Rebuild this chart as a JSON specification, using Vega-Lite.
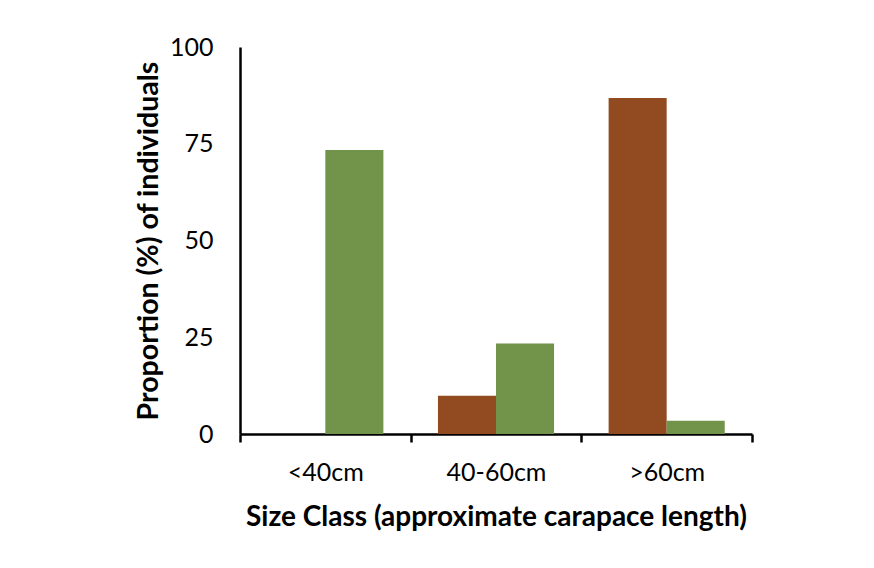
{
  "$schema": "https://vega.github.io/schema/vega-lite/v6.json",
  "autosize": {"type": "none"},
  "width": 512,
  "height": 387,
  "padding": {"left": 240, "top": 47, "right": 122, "bottom": 134},
  "background": "white",
  "data": {
    "values": [
      {"size": "<40cm", "series": "A", "pct": 0},
      {"size": "<40cm", "series": "B", "pct": 73.4},
      {"size": "40-60cm", "series": "A", "pct": 9.9},
      {"size": "40-60cm", "series": "B", "pct": 23.4},
      {"size": ">60cm", "series": "A", "pct": 86.8},
      {"size": ">60cm", "series": "B", "pct": 3.4}
    ]
  },
  "mark": {"type": "bar"},
  "encoding": {
    "x": {
      "field": "size",
      "type": "nominal",
      "sort": ["<40cm", "40-60cm", ">60cm"],
      "scale": {"paddingInner": 0, "paddingOuter": 0},
      "axis": {
        "title": "Size Class (approximate carapace length)",
        "labelAngle": 0,
        "tickBand": "extent",
        "tickSize": 8,
        "tickWidth": 2.5,
        "tickColor": "black",
        "domainColor": "black",
        "domainWidth": 2.5,
        "labelPadding": 18,
        "labelFontSize": 25,
        "labelColor": "black",
        "titleFontSize": 28,
        "titleFontWeight": "bold",
        "titleColor": "black",
        "titlePadding": 18
      }
    },
    "xOffset": {"field": "series", "type": "nominal", "scale": {"paddingInner": 0, "paddingOuter": 0.47}},
    "y": {
      "field": "pct",
      "type": "quantitative",
      "scale": {"domain": [0, 100]},
      "axis": {
        "title": "Proportion (%) of individuals",
        "values": [0, 25, 50, 75, 100],
        "grid": false,
        "ticks": false,
        "domainColor": "black",
        "domainWidth": 2.5,
        "labelPadding": 27,
        "labelFontSize": 25,
        "labelColor": "black",
        "titleFontSize": 28.5,
        "titleFontWeight": "bold",
        "titleColor": "black",
        "titlePadding": 6
      }
    },
    "color": {
      "field": "series",
      "type": "nominal",
      "scale": {"domain": ["A", "B"], "range": ["#924B21", "#71934A"]},
      "legend": null
    }
  },
  "config": {
    "font": "Lato",
    "view": {"stroke": null}
  }
}
